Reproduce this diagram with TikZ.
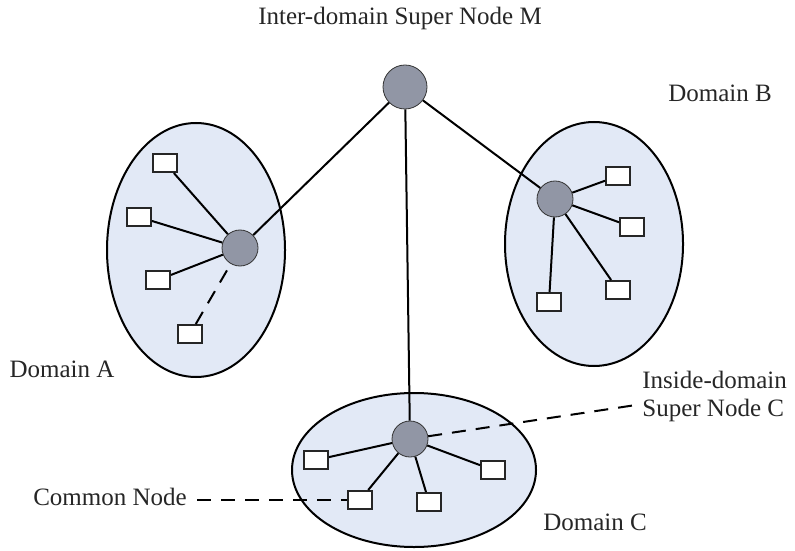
\documentclass[tikz,border=0pt]{standalone}
\usepackage{fontspec}
\setmainfont{Liberation Serif}
\usepackage{xcolor}
\definecolor{DomFill}{RGB}{226,233,246}
\definecolor{SuperFill}{RGB}{145,150,165}
\usetikzlibrary{positioning}
\usetikzlibrary{calc}

\begin{document}
\begin{tikzpicture}[
    x = 0.5pt, y = -0.5pt
    , domainarea/.style = {
      , draw = black
      , line width = 1pt
      , fill = DomFill
    }
    , super/.style = {
      , circle
      , minimum size = 18pt
      , inner sep = 0pt
      , draw = black!80
      , fill = SuperFill
    }
    , bigsuper/.style = {
      super,
      minimum size = 22pt
    }
    , common/.style = {
      , rectangle
      , minimum width = 12pt
      , minimum height = 9pt
      , inner sep = 0pt
      , draw = black!85
      , line width = 1pt
      , fill = white
    }
    , link/.style = {
      , draw = black
      , line width = 1pt
    }
    , weaklink/.style = {
      link,
      dash pattern = on 7pt off 5pt
    }
    , lbl/.style = {
      , font = \fontsize{12.5}{14}\selectfont
      , text = black!85
      , inner sep = 1pt
    }
    ]
    \useasboundingbox (0,0) rectangle (795,550);

    % domains
    \draw[domainarea] (196,250) ellipse [x radius=89, y radius=127];
    \draw[domainarea] (594,244) ellipse [x radius=89, y radius=122];
    \draw[domainarea] (414,470) ellipse [x radius=122, y radius=77];

    % super nodes
    \node[bigsuper] (M) at (405,87) {};
    \node[super] (sA) at (240,248) {};
    \node[super] (sB) at (555,199) {};
    \node[super] (sC) at (410,439) {};

    % common nodes of domain A
    \node[common] (a1) at (165,163) {};
    \node[common] (a2) at (139,217) {};
    \node[common] (a3) at (158,280) {};
    \node[common] (a4) at (190,334) {};

    % common nodes of domain B
    \node[common] (b1) at (618,176) {};
    \node[common] (b2) at (632,227) {};
    \node[common] (b3) at (618,290) {};
    \node[common] (b4) at (549,302) {};

    % common nodes of domain C
    \node[common] (c1) at (316,460) {};
    \node[common] (c2) at (360,500) {};
    \node[common] (c3) at (429,502) {};
    \node[common] (c4) at (493,470) {};

    % labels
    \node[lbl] (labelM) at (400,18) {Inter-domain Super Node M};
    \node[lbl] (labelB) at (720,93) {Domain B};
    \node[lbl] (labelA) at (62,369) {Domain A};
    \node[lbl] (labelC) at (595,522) {Domain C};
    \node[lbl] (labelCommon) at (110,497) {Common Node};
    \node[lbl, align=left, anchor=west] (labelSC) at (640,396) {Inside-domain\\Super Node C};
    \coordinate (endSC) at (636,405);

    \draw[link] (M) -- (sA);
    \draw[link] (M) -- (sB);
    \draw[link] (M) -- (sC);

    \draw[link] (a1) -- (sA);
    \draw[link] (a2) -- (sA);
    \draw[link] (a3) -- (sA);
    \draw[weaklink] (a4) -- (sA);

    \draw[link] (sB) -- (b1);
    \draw[link] (sB) -- (b2);
    \draw[link] (sB) -- (b3);
    \draw[link] (sB) -- (b4);

    \draw[link] (sC) -- (c1);
    \draw[link] (sC) -- (c2);
    \draw[link] (sC) -- (c3);
    \draw[link] (sC) -- (c4);

    \draw[weaklink] (labelCommon.east |- c2.west) ++(8,0) -- (c2.west);
    \draw[weaklink] (sC) -- (endSC);
  \end{tikzpicture}
\end{document}
